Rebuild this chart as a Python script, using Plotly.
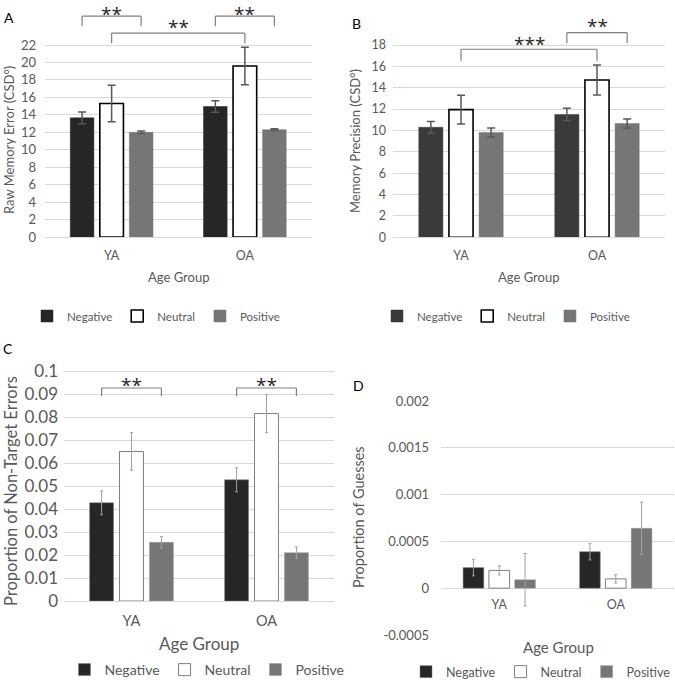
import plotly.graph_objects as go

W, H = 675, 680
FONT = "Lato"
GRAY = "#595959"

# ---------------- data ----------------
groups = ["YA", "OA"]
conditions = ["Negative", "Neutral", "Positive"]

# Panel A: Raw memory error
a_neg = [13.65, 14.95]
a_neu = [15.3, 19.6]
a_pos = [12.0, 12.3]
a_neg_err = [0.67, 0.65]
a_neu_err = [2.1, 2.15]
a_pos_err = [0.15, 0.1]

# Panel B: Memory precision
b_neg = [10.3, 11.5]
b_neu = [11.95, 14.72]
b_pos = [9.8, 10.65]
b_neg_err = [0.55, 0.57]
b_neu_err = [1.35, 1.4]
b_pos_err = [0.42, 0.42]

# Panel C: Proportion of non-target errors
c_neg = [0.0427, 0.0527]
c_neu = [0.065, 0.0815]
c_pos = [0.0255, 0.021]
c_neg_err = [0.0052, 0.0052]
c_neu_err = [0.0082, 0.0083]
c_pos_err = [0.0025, 0.0025]

# Panel D: Proportion of guesses
d_neg = [0.00022, 0.00039]
d_neu = [0.00019, 0.00010]
d_pos = [0.00009, 0.00064]
d_neg_err = [0.000088, 0.000088]
d_neu_err = [0.000048, 0.000045]
d_pos_err = [0.00028, 0.00028]

a_ticks = list(range(0, 23, 2))
b_ticks = list(range(0, 19, 2))
c_ticks = [0, 0.01, 0.02, 0.03, 0.04, 0.05, 0.06, 0.07, 0.08, 0.09, 0.1]
c_ticktext = ["0", "0.01", "0.02", "0.03", "0.04", "0.05", "0.06", "0.07", "0.08", "0.09", "0.1"]
d_ticks = [-0.0005, 0, 0.0005, 0.001, 0.0015, 0.002]
d_ticktext = ["-0.0005", "0", "0.0005", "0.001", "0.0015", "0.002"]

# significance brackets: (from (group, condition), to (group, condition), label)
sig_a = [((0, 0), (0, 2), "**"), ((1, 0), (1, 2), "**"), ((0, 1), (1, 1), "**")]
sig_b = [((1, 0), (1, 2), "**"), ((0, 1), (1, 1), "***")]
sig_c = [((0, 0), (0, 2), "**"), ((1, 0), (1, 2), "**")]


def px(x):
    return x / W


def py(y):
    return 1 - y / H


fig = go.Figure()

BARGAP = 0.335
GROUPGAP = 0.2
SLOT = (1 - BARGAP) / 3


def add_panel(n, vals, errs, legend, colors, lines, err_style):
    xa = "x" if n == 1 else f"x{n}"
    ya = "y" if n == 1 else f"y{n}"
    for i, cond in enumerate(conditions):
        fig.add_trace(go.Bar(
            x=groups, y=vals[i], name=cond,
            marker=dict(color=colors[i], line=dict(color=lines[i][0], width=lines[i][1])),
            error_y=dict(type="data", array=errs[i], visible=True, **err_style),
            xaxis=xa, yaxis=ya, legend=legend, hoverinfo="skip",
        ))


err_ab = dict(color="#595959", thickness=1.5, width=4)
err_cd = dict(color="#a0a0a0", thickness=1, width=1.5)

add_panel(1, [a_neg, a_neu, a_pos], [a_neg_err, a_neu_err, a_pos_err], "legend",
          ["#262626", "#ffffff", "#767676"],
          [("#262626", 0.5), ("#000000", 1.6), ("#767676", 0.5)], err_ab)
add_panel(2, [b_neg, b_neu, b_pos], [b_neg_err, b_neu_err, b_pos_err], "legend2",
          ["#3a3a3a", "#ffffff", "#767676"],
          [("#3a3a3a", 0.5), ("#000000", 1.6), ("#767676", 0.5)], err_ab)
add_panel(3, [c_neg, c_neu, c_pos], [c_neg_err, c_neu_err, c_pos_err], "legend3",
          ["#262626", "#ffffff", "#767676"],
          [("#7f7f7f", 0.5), ("#7f7f7f", 1), ("#9a9a9a", 0.5)], err_cd)
add_panel(4, [d_neg, d_neu, d_pos], [d_neg_err, d_neu_err, d_pos_err], "legend4",
          ["#262626", "#ffffff", "#767676"],
          [("#7f7f7f", 0.5), ("#7f7f7f", 1), ("#9a9a9a", 0.5)], err_cd)

GRID = "#d9d9d9"


def xaxis(domain, size, standoff, **kw):
    d = dict(domain=domain, range=[-0.5, 1.5], showgrid=False, showline=True,
             linecolor=GRID, linewidth=1, ticks="", ticklabelstandoff=standoff,
             tickfont=dict(family=FONT, size=size, color=GRAY), fixedrange=True,
             automargin=False)
    d.update(kw)
    return d


def yaxis(domain, rng, tickvals, size, standoff, ticktext=None, **kw):
    d = dict(domain=domain, range=rng, tickvals=tickvals, showgrid=True, gridcolor=GRID,
             gridwidth=1, showline=False, zeroline=False, ticks="",
             ticklabelstandoff=standoff, automargin=False,
             tickfont=dict(family=FONT, size=size, color=GRAY), fixedrange=True)
    if ticktext is not None:
        d["ticktext"] = ticktext
    d.update(kw)
    return d


# pixel geometry of each panel
A_PPU = 192 / 22
B_PPU = 192.3 / 18
C_PPU = 230 / 0.1
A_TOP = 237 / A_PPU
fig.update_layout(
    xaxis=xaxis([px(45), px(311.5)], 12.5, 7, anchor="y"),
    yaxis=yaxis([py(237), 1], [0, A_TOP], a_ticks, 13, 8, anchor="x"),
    xaxis2=xaxis([px(393), px(665)], 12.5, 7, anchor="y2"),
    yaxis2=yaxis([py(237.3), 1], [0, 237.3 / B_PPU], b_ticks, 12.5, 6, anchor="x2"),
    xaxis3=xaxis([px(64), px(334)], 14.5, 7, anchor="y3"),
    yaxis3=yaxis([py(601), py(369)], [0, 0.1 + 2 / C_PPU], c_ticks, 17, 5,
                 ticktext=c_ticktext, anchor="x3"),
    xaxis4=xaxis([px(441), px(674)], 12.5, 7, anchor="free", position=py(588.3),
                 showline=False),
    yaxis4=yaxis([py(635), py(401)], [-0.0005, 0.002], d_ticks, 13, 11,
                 ticktext=d_ticktext, anchor="x4", zeroline=True, zerolinecolor=GRID,
                 zerolinewidth=1),
)


def legend_cfg(xc, yc, size):
    return dict(orientation="h", x=px(xc), y=py(yc), xanchor="center", yanchor="middle",
                font=dict(family=FONT, size=size, color=GRAY), bgcolor="rgba(0,0,0,0)",
                itemclick=False, itemdoubleclick=False, tracegroupgap=0)


fig.update_layout(
    legend=legend_cfg(156, 316, 11.5),
    legend2=legend_cfg(506, 316, 11.5),
    legend3=legend_cfg(207, 670, 14),
    legend4=legend_cfg(541, 672, 12.5),
)

ann = []


def text(x, y, t, size, color=GRAY, angle=0):
    ann.append(dict(x=px(x), y=py(y), xref="paper", yref="paper", text=t, showarrow=False,
                    textangle=angle, xanchor="center", yanchor="middle",
                    font=dict(family=FONT, size=size, color=color)))


# panel letters
text(9, 17, "A", 14, "#000000")
text(356, 23.5, "B", 14, "#000000")
text(8, 348.5, "C", 14, "#000000")
text(358, 385.5, "D", 14, "#000000")

# axis titles
text(178, 277, "Age Group", 13)
text(528, 277, "Age Group", 13)
text(199, 643, "Age Group", 17)
text(558, 647, "Age Group", 15)
text(9, 140, "Raw Memory Error (CSD°)", 13, angle=-90)
text(355, 141, "Memory Precision (CSD°)", 13, angle=-90)
text(11, 491, "Proportion of Non-Target Errors", 16.5, angle=-90)
text(358, 517, "Proportion of Guesses", 14.5, angle=-90)

shapes = []
BR = dict(color="#7f7f7f", width=1.2)


def bar_x(g, c):
    return g + (c - 1) * SLOT


def add_brackets(n, sigs, levels):
    xa = "x" if n == 1 else f"x{n}"
    ya = "y" if n == 1 else f"y{n}"
    for (s, e, lab), (ytop, yleg, ytext, anchor) in zip(sigs, levels):
        x0, x1 = bar_x(*s), bar_x(*e)
        for seg in [(x0, yleg, x0, ytop), (x0, ytop, x1, ytop), (x1, ytop, x1, yleg)]:
            shapes.append(dict(type="line", xref=xa, yref=ya, x0=seg[0], y0=seg[1],
                               x1=seg[2], y1=seg[3], line=BR, layer="above"))
        ann.append(dict(x=(x0 + x1) / 2, y=ytext, xref=xa, yref=ya, text=lab,
                        showarrow=False, xanchor="center", yanchor=anchor, borderpad=0,
                        font=dict(family="Open Sans", size=19, color="#262626")))


# bracket heights in data units (top, leg end, label position, label anchor)
add_brackets(1, sig_a, [(25.3, 24.15, A_TOP, "top"), (25.3, 24.15, A_TOP, "top"),
                        (23.37, 22.2, 24.05, "middle")])
add_brackets(2, sig_b, [(19.15, 18.16, 19.8, "middle"), (17.6, 16.53, 18.1, "middle")])
add_brackets(3, sig_c, [(0.0926, 0.0891, 0.0939, "middle"), (0.0926, 0.0891, 0.0939, "middle")])

fig.update_layout(
    width=W, height=H, margin=dict(l=0, r=0, t=0, b=0, autoexpand=False),
    paper_bgcolor="white", plot_bgcolor="white",
    barmode="group", bargap=BARGAP, bargroupgap=GROUPGAP,
    annotations=ann, shapes=shapes,
    font=dict(family=FONT, color=GRAY),
)

fig.write_html(
    "out.html",
    config={"displayModeBar": False, "staticPlot": True},
    post_script="document.body.style.margin='0';document.body.style.overflow='hidden';",
)
